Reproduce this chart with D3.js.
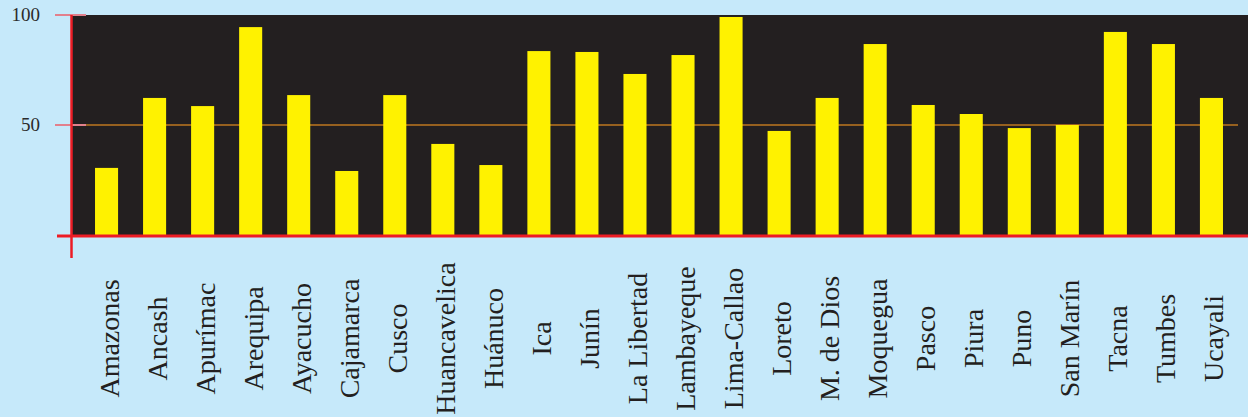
<!DOCTYPE html>
<html>
<head>
<meta charset="utf-8">
<script src="https://cdn.jsdelivr.net/npm/d3@7"></script>
<style>
  html, body { margin: 0; padding: 0; background: #c6e9fa; }
  svg { display: block; }
</style>
</head>
<body>
<svg id="chart" width="1248" height="417"></svg>
<script>
// Regions of Peru and their index values (0–100)
const regions = [
  "Amazonas", "Ancash", "Apurímac", "Arequipa", "Ayacucho", "Cajamarca",
  "Cusco", "Huancavelica", "Huánuco", "Ica", "Junín", "La Libertad",
  "Lambayeque", "Lima-Callao", "Loreto", "M. de Dios", "Moquegua", "Pasco",
  "Piura", "Puno", "San Marín", "Tacna", "Tumbes", "Ucayali"
];
const values = [
  30.5, 62.3, 58.6, 94.5, 63.6, 29.1,
  63.6, 41.4, 31.8, 83.6, 83.2, 73.2,
  81.8, 99.1, 47.3, 62.3, 86.8, 59.1,
  55.0, 48.6, 50.0, 92.3, 86.8, 62.3
];
const yTicks = [50, 100];
const gridValues = [50];

const W = 1248, H = 417;
const plot = { left: 72, right: 1248, top: 15, bottom: 235 };

const svg = d3.select("#chart");

const x = d3.scaleBand()
  .domain(regions)
  .range([71, 1247])
  .paddingInner(0.52)
  .paddingOuter(0.5);

const y = d3.scaleLinear()
  .domain([0, 100])
  .range([plot.bottom, plot.top]);

// dark plot background
svg.append("rect")
  .attr("x", plot.left)
  .attr("y", plot.top)
  .attr("width", plot.right - plot.left)
  .attr("height", plot.bottom - plot.top)
  .attr("fill", "#231f20");

// horizontal reference line
svg.selectAll("line.grid")
  .data(gridValues)
  .join("line")
  .attr("class", "grid")
  .attr("x1", plot.left)
  .attr("x2", 1238)
  .attr("y1", d => y(d))
  .attr("y2", d => y(d))
  .attr("stroke", "#96601f")
  .attr("stroke-width", 2);

// bars
svg.selectAll("rect.bar")
  .data(values)
  .join("rect")
  .attr("class", "bar")
  .attr("x", (d, i) => x(regions[i]))
  .attr("width", x.bandwidth())
  .attr("y", d => y(d))
  .attr("height", d => y(0) - y(d))
  .attr("fill", "#fff200");

// y tick marks
svg.selectAll("line.ytick")
  .data(yTicks)
  .join("line")
  .attr("class", "ytick")
  .attr("x1", 55)
  .attr("x2", 86)
  .attr("y1", d => y(d))
  .attr("y2", d => y(d))
  .attr("stroke", "#e2808c")
  .attr("stroke-width", 2);

// y tick labels
svg.selectAll("text.ylab")
  .data(yTicks)
  .join("text")
  .attr("class", "ylab")
  .attr("x", 40)
  .attr("y", d => y(d))
  .attr("dy", "0.33em")
  .attr("text-anchor", "end")
  .attr("font-family", "'Liberation Serif', 'Times New Roman', serif")
  .attr("font-size", 19)
  .attr("fill", "#2b2b2b")
  .text(d => d);

// axis lines
svg.append("line")
  .attr("x1", 57).attr("x2", W)
  .attr("y1", 236).attr("y2", 236)
  .attr("stroke", "#ed1c24")
  .attr("stroke-width", 3);

svg.append("line")
  .attr("x1", 71.5).attr("x2", 71.5)
  .attr("y1", plot.top).attr("y2", 258)
  .attr("stroke", "#ed1c24")
  .attr("stroke-width", 2.5);

// rotated category labels
svg.selectAll("text.xlab")
  .data(regions)
  .join("text")
  .attr("class", "xlab")
  .attr("transform", d => `translate(${x(d) + x.bandwidth() / 2 + 12},338.5) rotate(-90)`)
  .attr("text-anchor", "middle")
  .attr("font-family", "'Liberation Serif', 'Times New Roman', serif")
  .attr("font-size", 28)
  .attr("fill", "#231f20")
  .text(d => d);
</script>
</body>
</html>
